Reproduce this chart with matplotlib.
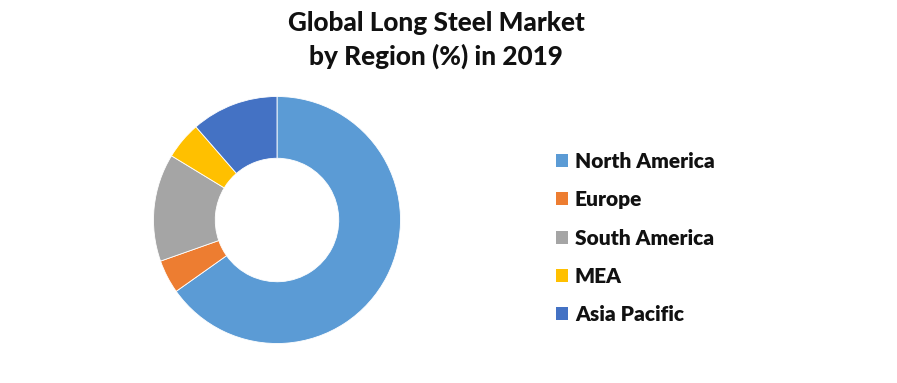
import matplotlib
matplotlib.use("Agg")
import matplotlib.pyplot as plt
from matplotlib.patches import Patch

regions = ["North America", "Europe", "South America", "MEA", "Asia Pacific"]
shares = [65.2, 4.4, 14.1, 4.9, 11.4]
colors = ["#5B9BD5", "#ED7D31", "#A5A5A5", "#FFC000", "#4472C4"]
title = "Global Long Steel Market\nby Region (%) in 2019"

plt.rcParams['font.family'] = ['Lato', 'DejaVu Sans']

W, H = 897, 383
fig = plt.figure(figsize=(W / 100, H / 100), dpi=100)
fig.patch.set_facecolor("white")

cx, cy, r = 277, 220, 123.5
ax = fig.add_axes([(cx - r) / W, (H - cy - r) / H, 2 * r / W, 2 * r / H])
ax.pie(shares, colors=colors, startangle=90, counterclock=False, radius=1,
       wedgeprops=dict(width=0.5, edgecolor="white", linewidth=0.6))
ax.set_xlim(-1, 1)
ax.set_ylim(-1, 1)
ax.set_aspect("equal")
ax.axis("off")

fig.text(436 / W, 1 - 40 / H, title, ha="center", va="center",
         fontsize=18.8, fontweight="black", color="#111111", linespacing=1.38)

handles = [Patch(facecolor=c, edgecolor="none") for c in colors]
leg = fig.legend(handles, regions, loc="upper left",
                 bbox_to_anchor=(537 / W, 1 - 133 / H), frameon=False,
                 prop=dict(size=15, weight="heavy"), handlelength=0.58,
                 handleheight=0.58, handletextpad=0.34, labelspacing=0.93)
for t in leg.get_texts():
    t.set_color("#111111")

fig.savefig("out.png", dpi=100, facecolor="white")
